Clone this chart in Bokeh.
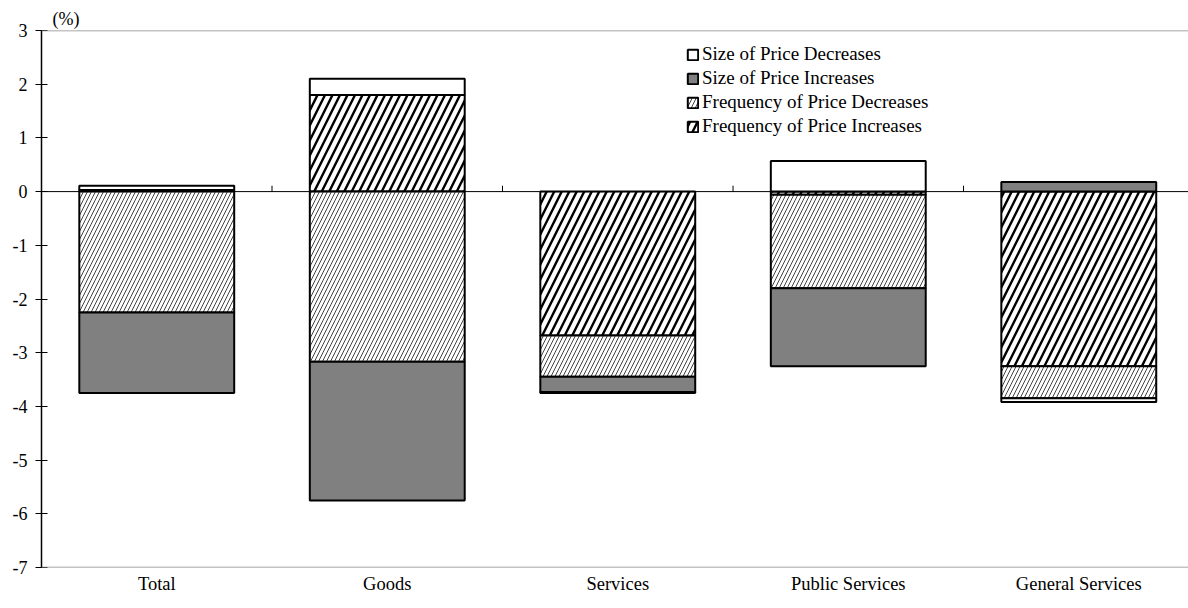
from bokeh.plotting import figure
from bokeh.models import Range1d, Span, Legend, LegendItem, FixedTicker, ColumnDataSource, Title
from bokeh.embed import file_html
from bokeh.resources import INLINE

categories = ["Total", "Goods", "Services", "Public Services", "General Services"]
freq_inc = [0.03, 1.80, -2.68, -0.06, -3.25]
freq_dec = [-2.25, -3.17, -0.77, -1.74, -0.60]
size_inc = [-1.50, -2.58, -0.28, -1.45, 0.18]
size_dec = [0.08, 0.30, -0.02, 0.57, -0.07]
y_ticks = [-7, -6, -5, -4, -3, -2, -1, 0, 1, 2, 3]

series = [
    ("Frequency of Price Increases", freq_inc),
    ("Frequency of Price Decreases", freq_dec),
    ("Size of Price Increases", size_inc),
    ("Size of Price Decreases", size_dec),
]
styles = {
    "Frequency of Price Increases": dict(fill_color="white", hatch_pattern="/", hatch_color="black",
                                         hatch_weight=2.4, hatch_scale=15),
    "Frequency of Price Decreases": dict(fill_color="white", hatch_pattern="/", hatch_color="#444444",
                                         hatch_weight=1.0, hatch_scale=8),
    "Size of Price Increases": dict(fill_color="#808080"),
    "Size of Price Decreases": dict(fill_color="white"),
}

FONT = "Liberation Serif"
n = len(categories)
xs = [i + 0.5 for i in range(n)]

p = figure(width=1188, height=608, output_backend="svg", toolbar_location=None,
           x_range=Range1d(0, 4.976), y_range=Range1d(-7, 3),
           min_border_left=41, min_border_right=0, min_border_top=30, min_border_bottom=41)
p.outline_line_color = None
p.xgrid.visible = False
p.ygrid.visible = False

t = Title(text="(%)", align="left", offset=11, text_font=FONT, text_font_size="18px",
          text_font_style="normal", text_color="black", standoff=4)
p.title = t

pos = [0.0] * n
neg = [0.0] * n
renderers = {}
for name, vals in series:
    bottoms, tops = [], []
    for i, v in enumerate(vals):
        if v >= 0:
            bottoms.append(pos[i]); tops.append(pos[i] + v); pos[i] += v
        else:
            tops.append(neg[i]); bottoms.append(neg[i] + v); neg[i] += v
    src = ColumnDataSource(dict(x=xs, bottom=bottoms, top=tops))
    r = p.vbar(x="x", bottom="bottom", top="top", width=0.672, source=src,
               line_color="black", line_width=2, **styles[name])
    renderers[name] = r

p.add_layout(Span(location=3, dimension="width", line_color="#888888", line_width=1.5))
p.add_layout(Span(location=-7, dimension="width", line_color="#888888", line_width=1.5))
p.add_layout(Span(location=0, dimension="width", line_color="black", line_width=1))

bx = list(range(1, n))
p.segment(x0=bx, x1=bx, y0=[0] * len(bx), y1=[0.11] * len(bx), line_color="black", line_width=1)

p.yaxis.ticker = FixedTicker(ticks=y_ticks)
p.yaxis.major_label_overrides = {v: str(v) for v in y_ticks}
p.yaxis.minor_tick_line_color = None
p.yaxis.major_tick_in = 6
p.yaxis.major_tick_out = 6
p.yaxis.axis_line_color = "black"
p.yaxis.axis_line_width = 1.5
p.yaxis.major_tick_line_width = 1.2
p.yaxis.major_label_standoff = 8
p.yaxis.major_label_text_font = FONT
p.yaxis.major_label_text_font_size = "18px"
p.yaxis.major_label_text_color = "black"

p.xaxis.ticker = FixedTicker(ticks=xs)
p.xaxis.major_label_overrides = {x: c for x, c in zip(xs, categories)}
p.xaxis.axis_line_color = None
p.xaxis.major_tick_line_color = None
p.xaxis.minor_tick_line_color = None
p.xaxis.major_tick_out = 0
p.xaxis.major_label_standoff = 6
p.xaxis.major_label_text_font = FONT
p.xaxis.major_label_text_font_size = "18.5px"
p.xaxis.major_label_text_color = "black"

legend_order = ["Size of Price Decreases", "Size of Price Increases",
                "Frequency of Price Decreases", "Frequency of Price Increases"]
legend = Legend(items=[LegendItem(label=nm, renderers=[renderers[nm]]) for nm in legend_order],
                location=(645, 430), border_line_color=None, background_fill_alpha=0,
                padding=0, margin=0, spacing=2, glyph_width=13, glyph_height=13,
                label_standoff=3, label_height=20,
                label_text_font=FONT, label_text_font_size="19px", label_text_color="black")
p.add_layout(legend)

open("out.html", "w").write(file_html(p, INLINE))
